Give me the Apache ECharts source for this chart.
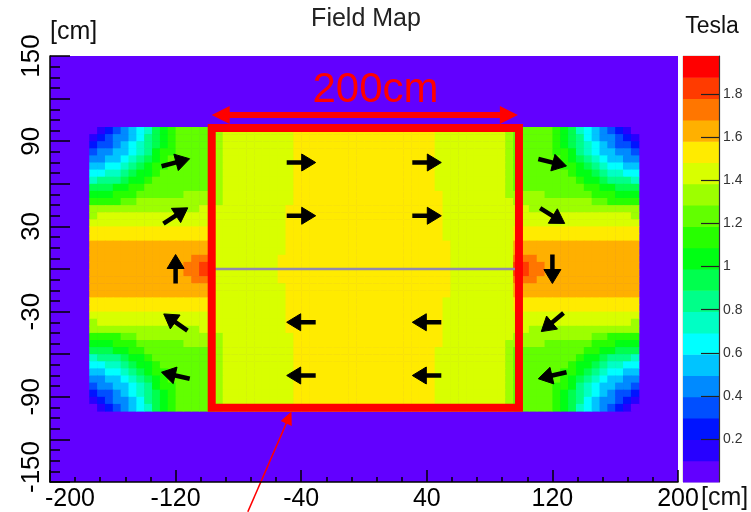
<!DOCTYPE html>
<html><head><meta charset="utf-8">
<script src="https://cdn.jsdelivr.net/npm/echarts@6/dist/echarts.min.js"></script>
<style>html,body{margin:0;padding:0;background:#fff}#c{width:751px;height:512px}</style>
</head><body><div id="c"></div>
<script>
// ---------------- data ----------------
const xMin = -200, xMax = 200, xStep = 80;          // x axis [cm]
const yMin = -150, yMax = 150, yStep = 30;          // y axis [cm]
const yLabelValues = [150, 90, 30, -30, -90, -150];
const colorbarTicks = [0.2, 0.4, 0.6, 0.8, 1, 1.2, 1.4, 1.6, 1.8];
const zMax = 1.978;          // top of colour scale [Tesla]
const nLevels = 20;          // contour levels of the colour scale

// field map: cells of 5 cm, region x -175..175, y 100..-100
// each row: run-length tokens "<level><count>", level code 0..j = bin 0..19
const cellSize = 5, fieldX0 = -175, fieldY0 = 100;
const fieldRows = [
  "0 1 2 3 4 5 6 7 9 a b c5 d e9 f18 e9 d c5 b a 9 7 6 5 4 3 2 1 0",
  "1 2 3 42 5 6 8 9 a b c5 d e9 f18 e9 d c5 b a 9 8 6 5 42 3 2 1",
  "2 32 4 5 6 7 8 9 a b c5 d e9 f18 e9 d c5 b a 9 8 7 6 5 4 32 2",
  "3 42 52 6 7 8 a b2 c5 d e9 f18 e9 d c5 b2 a 8 7 6 52 42 3",
  "42 52 6 7 8 9 a b c6 d e9 f18 e9 d c6 b a 9 8 7 6 52 42",
  "52 62 7 8 9 a b2 c6 d e9 f18 e9 d c6 b2 a 9 8 7 62 52",
  "62 72 8 9 a2 b c7 d e9 f18 e9 d c7 b a2 9 8 72 62",
  "7 83 9 a2 b c8 d e9 f18 e9 d c8 b a2 9 83 7",
  "93 a2 b2 c9 d e9 f18 e9 d c9 b2 a2 93",
  "a3 b3 c6 d4 d e9 f19 e8 d d4 c6 b3 a3",
  "b4 c2 d10 d e9 f19 e9 d10 c2 b4",
  "d14 e2 e9 f20 e9 e2 d14",
  "d e15 e9 f20 e9 e15 d",
  "e16 e9 f20 e9 e16",
  "f16 e9 f20 e9 f16",
  "f16 e9 f20 e9 f16",
  "g16 e9 f21 e8 g16",
  "g16 e9 f21 e8 g16",
  "g13 h3 e8 f22 e8 h3 g13",
  "g12 h2 i2 e8 f22 e8 i2 h2 g12",
  "g12 h2 i2 e8 f22 e8 i2 h2 g12",
  "g13 h3 e8 f22 e8 h3 g13",
  "g16 e9 f21 e8 g16",
  "g16 e9 f21 e8 g16",
  "f16 e9 f20 e9 f16",
  "f16 e9 f20 e9 f16",
  "e16 e9 f20 e9 e16",
  "d e15 e9 f20 e9 e15 d",
  "d14 e2 e9 f20 e9 e2 d14",
  "b4 c2 d10 d e9 f19 e9 d10 c2 b4",
  "a3 b3 c6 d4 d e9 f19 e8 d d4 c6 b3 a3",
  "93 a2 b2 c9 d e9 f18 e9 d c9 b2 a2 93",
  "7 83 9 a2 b c8 d e9 f18 e9 d c8 b a2 9 83 7",
  "62 72 8 9 a2 b c7 d e9 f18 e9 d c7 b a2 9 8 72 62",
  "52 62 7 8 9 a b2 c6 d e9 f18 e9 d c6 b2 a 9 8 7 62 52",
  "42 52 6 7 8 9 a b c6 d e9 f18 e9 d c6 b a 9 8 7 6 52 42",
  "3 42 52 6 7 8 a b2 c5 d e9 f18 e9 d c5 b2 a 8 7 6 52 42 3",
  "2 32 4 5 6 7 8 9 a b c5 d e9 f18 e9 d c5 b a 9 8 7 6 5 4 32 2",
  "1 2 3 42 5 6 8 9 a b c5 d e9 f18 e9 d c5 b a 9 8 6 5 42 3 2 1",
  "0 1 2 3 4 5 6 7 9 a b c5 d e9 f18 e9 d c5 b a 9 7 6 5 4 3 2 1 0"
];

// field direction arrows
const arrowX     = [-120, -120, -120, -120, -120, -40, -40, -40, -40, 40, 40, 40, 40, 120, 120, 120, 120, 120];
const arrowY     = [75, 37.5, 0, -37.5, -75, 75, 37.5, -37.5, -75, 75, 37.5, -37.5, -75, 75, 37.5, 0, -37.5, -75];
const arrowAngle = [15, 33, 90, 145, 167, 0, 0, 180, 180, 0, 0, 180, 180, -14, -32, -90, -140, -167];

// annotations
const boxX = [-97, 98.7];
const boxY = [-97.7, 99.3];
const zeroLineY = 0;
const dimX = [-97, 98];
const dimY = 108.5;
const dimLabel = '200cm';
const dimLabelPos = [7.3, 125.7];
const pointerFrom = [-74, -171];
const pointerTo = [-46.2, -100.4];

// ---------------- styles ----------------
const palette = ['#6200ff','#2700ff','#0014ff','#004fff','#008aff','#00c4ff','#00ffff','#00ffc4','#00ff89','#00ff4e',
                 '#00ff14','#27ff00','#62ff00','#9dff00','#d8ff00','#ffeb00','#ffb000','#ff7600','#ff3b00','#ff0000'];
const FONT = 'Liberation Sans, Arial, sans-serif';
const binWidth = zMax / nLevels;
const LEVEL_CODES = '0123456789abcdefghij';
function colorOf(v) { return palette[Math.max(0, Math.min(nLevels - 1, Math.floor(v / binWidth)))]; }

// decode rows into cells [x, y, Tesla]
const cells = [];
fieldRows.forEach((row, r) => {
  let c = 0;
  row.trim().split(/\s+/).forEach(tok => {
    const lev = LEVEL_CODES.indexOf(tok[0]);
    const n = tok.length > 1 ? parseInt(tok.slice(1), 10) : 1;
    for (let k = 0; k < n; k++, c++) {
      cells.push([fieldX0 + (c + 0.5) * cellSize, fieldY0 - (r + 0.5) * cellSize, (lev + 0.5) * binWidth]);
    }
  });
  if (c !== 70) throw new Error('row ' + r + ' has ' + c + ' cells');
});
const colorbarLevels = palette.map((_, k) => [k]);
const arrows = arrowX.map((x, i) => [x, arrowY[i], arrowAngle[i]]);

function headPoints(tip, ux, uy, len, half) {
  const bx = tip[0] - ux * len, by = tip[1] - uy * len;
  const nx = -uy, ny = ux;
  return [tip, [bx + nx * half, by + ny * half], [bx - nx * half, by - ny * half]];
}

const labelRich = {
  xl: { fontSize: 25, fontFamily: FONT, color: '#000', padding: [0, 0, 0, 40] },
  yl: { fontSize: 26, fontFamily: FONT, color: '#000', padding: [0, 0, 0, 30] }
};

const chart = echarts.init(document.getElementById('c'), null, { renderer: 'canvas' });
chart.setOption({
  animation: false,
  textStyle: { fontFamily: FONT },
  grid: [
    { left: 50, top: 56, width: 628, height: 426, show: true, backgroundColor: palette[0], borderWidth: 0, containLabel: false, outerBoundsMode: 'none' },
    { left: 683, top: 56, width: 36, height: 426, show: true, backgroundColor: 'transparent', borderColor: '#c8c8c8', borderWidth: 1, containLabel: false, outerBoundsMode: 'none' }
  ],
  xAxis: [
    { type: 'value', gridIndex: 0, min: xMin, max: xMax, interval: xStep, z: 10,
      axisLine: { show: true, onZero: false, lineStyle: { color: '#000', width: 1.5 } },
      axisTick: { show: true, inside: true, length: 12, lineStyle: { color: '#000', width: 1.5 } },
      minorTick: { show: true, splitNumber: 5, length: 5, lineStyle: { color: '#000', width: 1.5 } },
      splitLine: { show: false }, minorSplitLine: { show: false },
      axisLabel: { fontSize: 25, color: '#000', margin: 5, fontFamily: FONT, rich: labelRich,
                   formatter: v => Math.round(v) === xMin ? '{xl|' + Math.round(v) + '}' : String(Math.round(v)) } },
    { type: 'value', gridIndex: 1, min: 0, max: 1, show: false }
  ],
  yAxis: [
    { type: 'value', gridIndex: 0, min: yMin, max: yMax, interval: yStep, z: 10,
      axisLine: { show: true, onZero: false, lineStyle: { color: '#000', width: 1.5 } },
      axisTick: { show: true, inside: true, length: 20, lineStyle: { color: '#000', width: 1.5 } },
      minorTick: { show: true, splitNumber: 4, length: 10, lineStyle: { color: '#000', width: 1.5 } },
      splitLine: { show: false }, minorSplitLine: { show: false },
      axisLabel: { fontSize: 26, color: '#000', margin: 5, rotate: 90, fontFamily: FONT, rich: labelRich,
                   align: 'center', verticalAlign: 'bottom',
                   formatter: v => {
                     const r = Math.round(v);
                     if (yLabelValues.indexOf(r) < 0) return '';
                     return r === yMin ? '{yl|' + r + '}' : String(r);
                   } } },
    { type: 'value', gridIndex: 1, min: 0, max: zMax, interval: 0.2, position: 'right', z: 10,
      axisLine: { show: true, onZero: false, lineStyle: { color: '#333', width: 1.2 } },
      axisTick: { show: true, inside: true, length: 18, customValues: colorbarTicks, lineStyle: { color: '#222', width: 1.2 } },
      splitLine: { show: false },
      axisLabel: { fontSize: 14, color: '#333', margin: 4, customValues: colorbarTicks, fontFamily: FONT,
                   formatter: v => (v > 0.05 && v < 1.9) ? String(+v.toFixed(1)) : '' } }
  ],
  graphic: [
    { type: 'text', x: 366, y: 19, style: { text: 'Field Map', fontSize: 25, fontFamily: FONT, fill: '#222', align: 'center', verticalAlign: 'middle' } },
    { type: 'text', x: 712, y: 27, style: { text: 'Tesla', fontSize: 23, fontFamily: FONT, fill: '#111', align: 'center', verticalAlign: 'middle' } },
    { type: 'text', x: 50, y: 32, style: { text: '[cm]', fontSize: 25, fontFamily: FONT, fill: '#111', align: 'left', verticalAlign: 'middle' } },
    { type: 'text', x: 701, y: 498, style: { text: '[cm]', fontSize: 25, fontFamily: FONT, fill: '#111', align: 'left', verticalAlign: 'middle' } }
  ],
  series: [
    { // field map cells
      type: 'custom', xAxisIndex: 0, yAxisIndex: 0, data: cells, silent: true,
      renderItem(params, api) {
        const x = api.value(0), y = api.value(1), v = api.value(2);
        const p0 = api.coord([x - cellSize / 2, y + cellSize / 2]);
        const p1 = api.coord([x + cellSize / 2, y - cellSize / 2]);
        return { type: 'rect', shape: { x: p0[0], y: p0[1], width: p1[0] - p0[0] + 0.6, height: p1[1] - p0[1] + 0.6 },
                 style: { fill: colorOf(v) } };
      }
    },
    { // colour bar
      type: 'custom', xAxisIndex: 1, yAxisIndex: 1, data: colorbarLevels, silent: true,
      renderItem(params, api) {
        const k = api.value(0);
        const p0 = api.coord([0, (k + 1) * binWidth]);
        const p1 = api.coord([1, k * binWidth]);
        return { type: 'rect', shape: { x: p0[0], y: p0[1], width: p1[0] - p0[0], height: p1[1] - p0[1] + 0.5 },
                 style: { fill: palette[k] } };
      }
    },
    { // thin line at y = 0 inside the box
      type: 'custom', xAxisIndex: 0, yAxisIndex: 0, data: [[boxX[0], boxX[1], zeroLineY]], silent: true,
      renderItem(params, api) {
        const a = api.coord([api.value(0), api.value(2)]), b = api.coord([api.value(1), api.value(2)]);
        return { type: 'line', shape: { x1: a[0], y1: a[1], x2: b[0], y2: b[1] }, style: { stroke: '#9189ad', lineWidth: 2.5 } };
      }
    },
    { // field arrows
      type: 'custom', xAxisIndex: 0, yAxisIndex: 0, data: arrows, silent: true,
      renderItem(params, api) {
        const c = api.coord([api.value(0), api.value(1)]);
        const a = api.value(2) * Math.PI / 180;
        const ux = Math.cos(a), uy = -Math.sin(a);
        const L = 29, HL = 14, HW = 8.5;
        const tail = [c[0] - ux * L / 2, c[1] - uy * L / 2];
        const tip = [c[0] + ux * L / 2, c[1] + uy * L / 2];
        const bx = tip[0] - ux * (HL - 2), by = tip[1] - uy * (HL - 2);
        return { type: 'group', children: [
          { type: 'line', shape: { x1: tail[0], y1: tail[1], x2: bx, y2: by }, style: { stroke: '#000', lineWidth: 4.5 } },
          { type: 'polygon', shape: { points: headPoints(tip, ux, uy, HL, HW) }, style: { fill: '#000', stroke: '#000', lineWidth: 1, lineJoin: 'round' } }
        ] };
      }
    },
    { // red box
      type: 'custom', xAxisIndex: 0, yAxisIndex: 0, data: [[boxX[0], boxY[1], boxX[1], boxY[0]]], silent: true,
      renderItem(params, api) {
        const p0 = api.coord([api.value(0), api.value(1)]), p1 = api.coord([api.value(2), api.value(3)]);
        return { type: 'rect', shape: { x: p0[0], y: p0[1], width: p1[0] - p0[0], height: p1[1] - p0[1] },
                 style: { fill: 'none', stroke: '#ff0000', lineWidth: 8 } };
      }
    },
    { // 200cm dimension arrow
      type: 'custom', xAxisIndex: 0, yAxisIndex: 0, data: [[dimX[0], dimX[1], dimY, dimLabelPos[0], dimLabelPos[1]]], silent: true,
      renderItem(params, api) {
        const a = api.coord([api.value(0), api.value(2)]), b = api.coord([api.value(1), api.value(2)]);
        const t = api.coord([api.value(3), api.value(4)]);
        const HL = 18, HW = 9;
        return { type: 'group', children: [
          { type: 'line', shape: { x1: a[0] + HL - 2, y1: a[1], x2: b[0] - HL + 2, y2: b[1] }, style: { stroke: '#ff0000', lineWidth: 6 } },
          { type: 'polygon', shape: { points: headPoints(a, -1, 0, HL, HW) }, style: { fill: '#ff0000' } },
          { type: 'polygon', shape: { points: headPoints(b, 1, 0, HL, HW) }, style: { fill: '#ff0000' } },
          { type: 'text', x: t[0], y: t[1], style: { text: dimLabel, fontSize: 42, fontFamily: FONT, fill: '#ff0000', align: 'center', verticalAlign: 'middle' } }
        ] };
      }
    },
    { // red pointer arrow from below
      type: 'custom', xAxisIndex: 0, yAxisIndex: 0, clip: false, silent: true,
      data: [[pointerFrom[0], pointerFrom[1], pointerTo[0], pointerTo[1]]],
      renderItem(params, api) {
        const s = api.coord([api.value(0), api.value(1)]), e = api.coord([api.value(2), api.value(3)]);
        const dx = e[0] - s[0], dy = e[1] - s[1], d = Math.hypot(dx, dy);
        const ux = dx / d, uy = dy / d, HL = 13, HW = 6;
        return { type: 'group', children: [
          { type: 'line', shape: { x1: s[0], y1: s[1], x2: e[0] - ux * (HL - 2), y2: e[1] - uy * (HL - 2) }, style: { stroke: '#ff0000', lineWidth: 1.5 } },
          { type: 'polygon', shape: { points: headPoints(e, ux, uy, HL, HW) }, style: { fill: '#ff0000' } }
        ] };
      }
    }
  ]
});
</script>
</body></html>
